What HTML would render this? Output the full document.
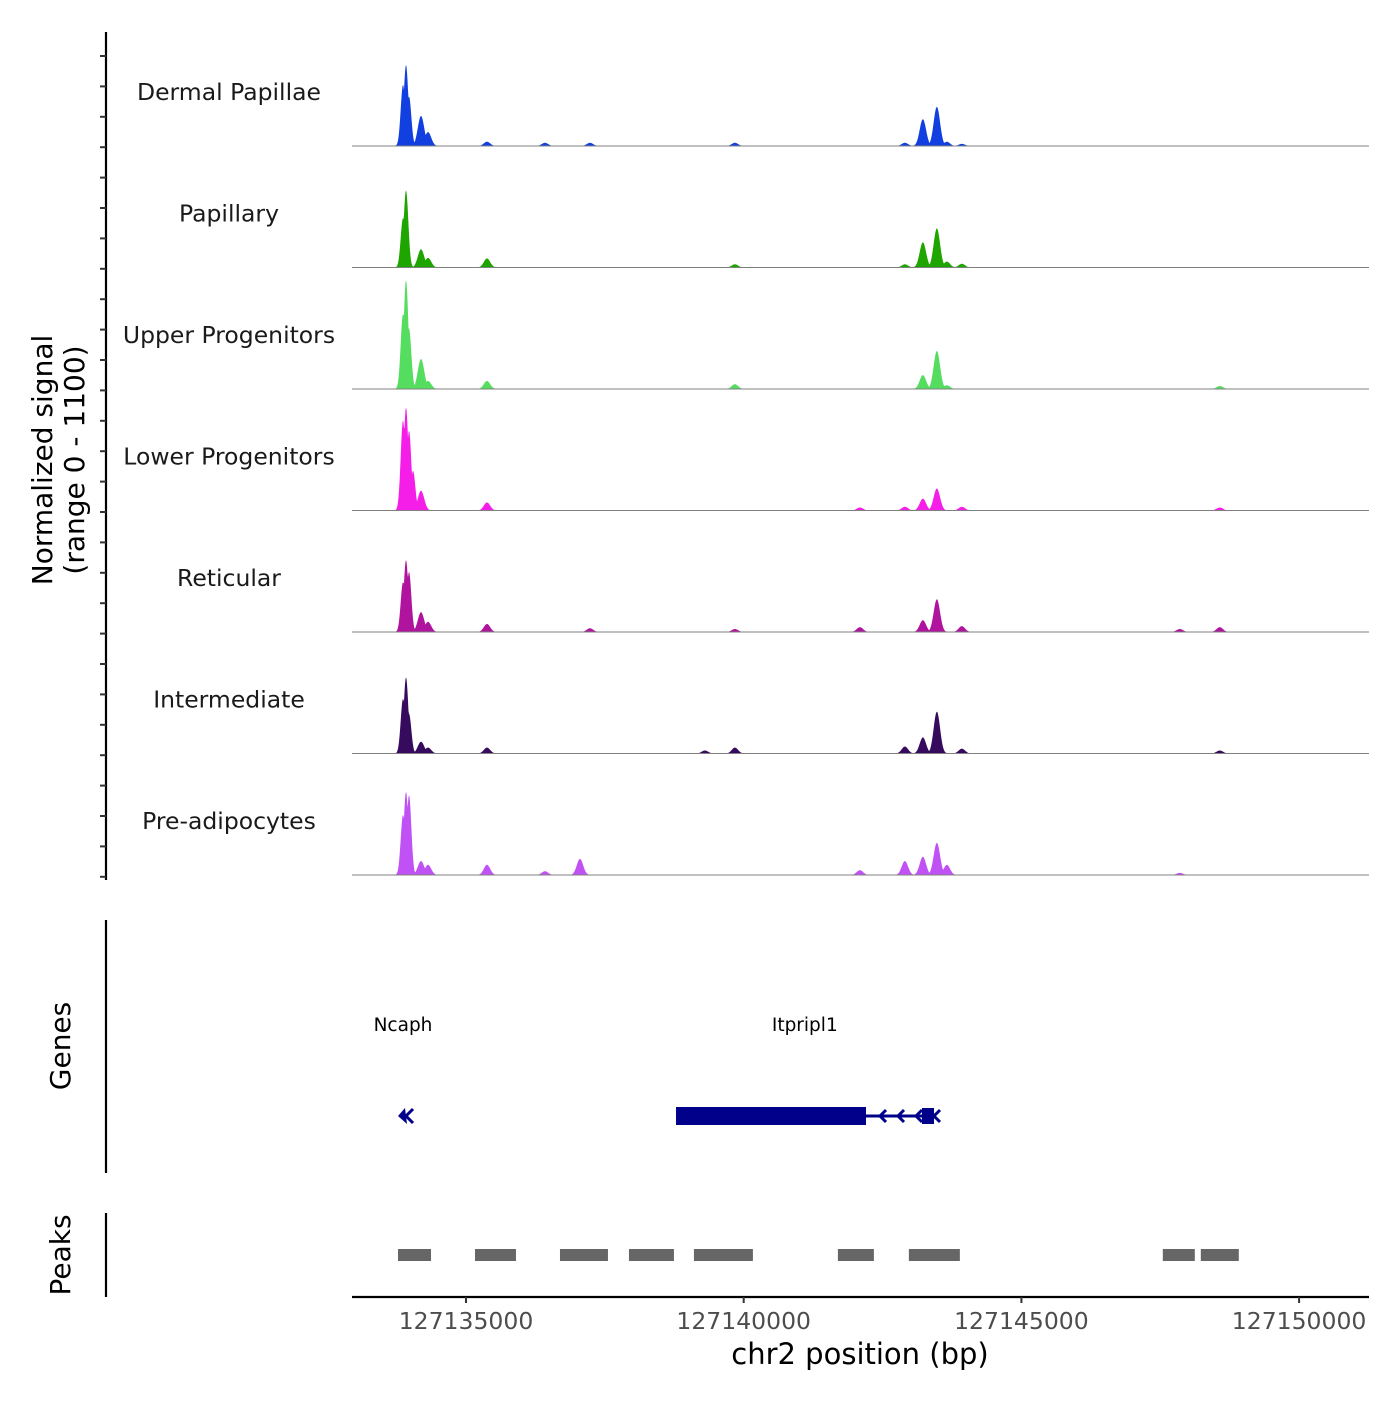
<!DOCTYPE html>
<html><head><meta charset="utf-8"><style>
body{margin:0;background:#fff}
svg text{font-family:"DejaVu Sans","Liberation Sans",sans-serif}
</style></head><body>
<svg id="c" width="1400" height="1400" viewBox="0 0 1400 1400" xmlns="http://www.w3.org/2000/svg"></svg>
<script>
const trackNames=["Dermal Papillae","Papillary","Upper Progenitors","Lower Progenitors","Reticular","Intermediate","Pre-adipocytes"];
const trackColors=["#1240e0","#1ea500","#55dd60","#f41ee8","#b0149e","#360a5c","#c052f5"];
const peakPos=[127133866,127133920,127133974,127134046,127134190,127134316,127135378,127136422,127137052,127137232,127139302,127139842,127142092,127142902,127143226,127143478,127143658,127143928,127145364,127147852,127148572];
const sigDermal=[570,755,460,0,280,130,40,30,0,30,0,30,0,30,250,365,40,20,0,0,0];
const sigPapillary=[460,720,0,0,170,90,85,0,0,0,0,30,0,30,235,365,55,35,0,0,0];
const sigUpper=[700,1015,560,0,280,75,75,0,0,0,0,45,0,0,130,355,35,0,0,0,28];
const sigLower=[840,960,745,370,185,0,75,0,0,0,0,0,28,35,110,205,0,35,0,0,28];
const sigReticular=[465,670,560,0,185,95,75,0,0,35,0,28,45,0,110,305,0,55,0,28,45];
const sigIntermediate=[510,710,370,0,110,55,55,0,0,0,28,55,0,65,150,390,0,45,0,0,28];
const sigPreadipo=[560,775,745,0,130,95,95,35,150,0,0,0,45,130,170,300,95,0,0,20,0];
const signals=[sigDermal,sigPapillary,sigUpper,sigLower,sigReticular,sigIntermediate,sigPreadipo];
const xTicks=[127135000,127140000,127145000,127150000];
const xTickLabels=["127135000","127140000","127145000","127150000"];
const peakStarts=[127133776,127135162,127136692,127137934,127139104,127141696,127142974,127147546,127148230];
const peakEnds=[127134370,127135900,127137556,127138744,127140166,127142344,127143892,127148122,127148914];
const geneNames=["Ncaph","Itpripl1"];
const geneLabelPos=[127133866,127141100];

const svg=document.getElementById('c');
const NS='http://www.w3.org/2000/svg';
function mk(tag,attrs,parent){const e=document.createElementNS(NS,tag);for(const k in attrs)e.setAttribute(k,attrs[k]);(parent||svg).appendChild(e);return e;}
const x=bp=>466+(bp-127135000)*(277.7/5000);
const trackH=121.5, firstBase=146, ymax=1100, hScale=118;
const y=(v,base)=>base-v/ymax*hScale;

let g=mk('g',{});


mk('line',{x1:106,y1:32,x2:106,y2:880,stroke:'#000','stroke-width':2.2},g);
for(let t=56;t<=878;t+=30.4){mk('line',{x1:100,y1:t,x2:106,y2:t,stroke:'#333','stroke-width':2},g);}
let yt=mk('text',{x:0,y:0,'font-size':28,'text-anchor':'middle',transform:'translate(52,460) rotate(-90)'});


mk('tspan',{x:0,dy:0},yt).textContent='Normalized signal';
mk('tspan',{x:0,dy:32},yt).textContent='(range 0 - 1100)';

signals.forEach((s,ti)=>{
  const base=firstBase+ti*trackH;
  const tg=mk('g',{});
  
  
  let d='M352,'+base;
  for(let px=352;px<=1369;px+=0.5){
    let v=0;
    for(let i=0;i<peakPos.length;i++){
      const c=x(peakPos[i]);const sg=(i<4)?2.3:3.2;
      v=Math.max(v,s[i]*Math.exp(-((px-c)*(px-c))/(2*sg*sg)));
    }
    v=Math.min(v,1100);
    d+=' L'+px+','+y(v,base).toFixed(2);
  }
  d+=' L1369,'+base+' Z';
  mk('path',{d:d,fill:trackColors[ti]},tg);
  mk('line',{x1:352,y1:base,x2:1369,y2:base,stroke:'#808080','stroke-width':1},tg);
  const lab=mk('text',{x:229,y:base-46,'font-size':23.5,'text-anchor':'middle',fill:'#1a1a1a'},tg);
  
  
  lab.textContent=trackNames[ti];
});

const gg=mk('g',{});


mk('line',{x1:106,y1:920,x2:106,y2:1173,stroke:'#000','stroke-width':2.2},gg);
mk('text',{x:0,y:0,'font-size':28,'text-anchor':'middle',transform:'translate(70,1046) rotate(-90)'},gg).textContent='Genes';
geneNames.forEach((n,i)=>{const t=mk('text',{x:x(geneLabelPos[i]),y:1031,'font-size':18.5,'text-anchor':'middle'},gg);t.textContent=n;});
const gc='#00008b';
mk('path',{d:'M398,1116 L405,1108 L407,1124 Z',fill:gc},gg);
mk('path',{d:'M413,1109 L406,1116 L413,1123',stroke:gc,'stroke-width':3,fill:'none'},gg);
mk('rect',{x:676,y:1107,width:190,height:18,fill:gc},gg);
mk('line',{x1:866,y1:1116,x2:934,y2:1116,stroke:gc,'stroke-width':3},gg);
[886,904,922].forEach(a=>mk('path',{d:`M${a},1110 L${a-6},1116 L${a},1122`,stroke:gc,'stroke-width':3,fill:'none'},gg));
mk('rect',{x:922,y:1108,width:12,height:16,fill:gc},gg);
mk('path',{d:'M940,1110 L934,1116 L940,1122',stroke:gc,'stroke-width':3,fill:'none'},gg);

const pg=mk('g',{});


mk('line',{x1:106,y1:1213,x2:106,y2:1297,stroke:'#000','stroke-width':2.2},pg);
mk('text',{x:0,y:0,'font-size':28,'text-anchor':'middle',transform:'translate(70,1255) rotate(-90)'},pg).textContent='Peaks';
peakStarts.forEach((s,i)=>{const r=mk('rect',{x:x(s),y:1249,width:x(peakEnds[i])-x(s),height:12,fill:'#666'},pg);});

const xg=mk('g',{});


mk('line',{x1:352,y1:1297,x2:1369,y2:1297,stroke:'#000','stroke-width':2.2},xg);
xTicks.forEach((t,i)=>{mk('line',{x1:x(t),y1:1297,x2:x(t),y2:1303,stroke:'#333','stroke-width':2},xg);
  const l=mk('text',{x:x(t),y:1329,'font-size':23.5,'text-anchor':'middle',fill:'#4d4d4d'},xg);l.textContent=xTickLabels[i];});
const xt=mk('text',{x:860,y:1364,'font-size':29,'text-anchor':'middle'},xg);


xt.textContent='chr2 position (bp)';
</script>
</body></html>
